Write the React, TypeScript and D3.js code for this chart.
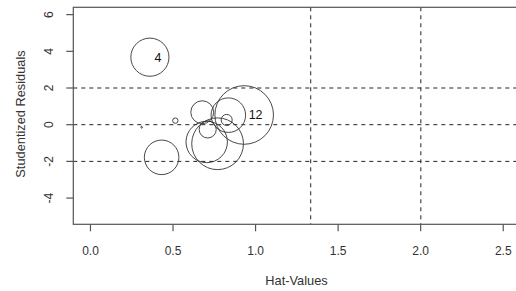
import React from 'react';
import * as d3 from 'd3';

// influence plot: hat-values vs studentized residuals, circle area ~ Cook's D
const hatValues = [0.31, 0.36, 0.431, 0.514, 0.677, 0.71, 0.704, 0.77, 0.835, 0.825, 0.931];
const studRes = [-0.14, 3.68, -1.78, 0.22, 0.68, -0.26, -0.94, -1.04, 0.52, 0.26, 0.53];
const cooksD = [0.001, 0.5, 0.41, 0.01, 0.18, 0.1, 0.59, 0.92, 0.41, 0.042, 1.18];
const obsLabels = ['', '4', '', '', '', '', '', '', '', '', '12'];

const xTicks = [0, 0.5, 1, 1.5, 2, 2.5];
const yTicks = [-4, -2, 0, 2, 4, 6];
const hLines = [-2, 0, 2];
const meanHat = 0.667;
const vLines = [2 * meanHat, 3 * meanHat];

const W = 516;
const H = 291;
const left = 73.3;
const top = 7.3;
const bottom = 224.3;

const App: React.FC = () => {
  const x = d3.scaleLinear().domain([-0.104, 2.7]).range([left, left + 2.804 * 165.1]);
  const y = d3.scaleLinear().domain([-5.43, 6.4]).range([bottom, top]);
  const r = d3.scaleSqrt().domain([0, d3.max(cooksD) || 1]).range([0, 29.3]);
  const right = x(2.7);
  const font = 'Liberation Sans, Arial, sans-serif';

  const order = d3.range(hatValues.length);

  return (
    <svg width={W} height={H} style={{ position: 'absolute', left: 0, top: 0 }} fontFamily={font}>
      <rect width={W} height={H} fill="#fff" />

      {hLines.map((h) => (
        <line key={'h' + h} x1={left} x2={right} y1={y(h)} y2={y(h)} stroke="#222" strokeDasharray="4,4" />
      ))}
      {vLines.map((v) => (
        <line key={'v' + v} x1={x(v)} x2={x(v)} y1={top} y2={bottom} stroke="#222" strokeDasharray="4,4" />
      ))}

      {order.map((i) => (
        <circle
          key={i}
          cx={x(hatValues[i])}
          cy={y(studRes[i])}
          r={Math.max(r(cooksD[i]), 0.7)}
          fill="none"
          stroke="#333"
          strokeWidth={0.9}
        />
      ))}
      {order
        .filter((i) => obsLabels[i])
        .map((i) => (
          <text key={'l' + i} x={x(hatValues[i]) + 4.5} y={y(studRes[i]) + 4.5} fontSize={12.5} fill="#111">
            {obsLabels[i]}
          </text>
        ))}

      <rect x={left} y={top} width={right - left} height={bottom - top} fill="none" stroke="#555" strokeWidth={1.2} />

      {xTicks.map((t) => (
        <g key={'x' + t}>
          <line x1={x(t)} x2={x(t)} y1={bottom} y2={bottom + 7} stroke="#555" strokeWidth={1.2} />
          <text x={x(t)} y={255} textAnchor="middle" fontSize={12} fill="#333">
            {d3.format('.1f')(t)}
          </text>
        </g>
      ))}
      {yTicks.map((t) => (
        <g key={'y' + t}>
          <line x1={left - 7} x2={left} y1={y(t)} y2={y(t)} stroke="#555" strokeWidth={1.2} />
          <text
            transform={`translate(53.3,${y(t)}) rotate(-90)`}
            textAnchor="middle"
            fontSize={12}
            fill="#333"
          >
            {t}
          </text>
        </g>
      ))}

      <text x={296.5} y={285} textAnchor="middle" fontSize={12.8} fill="#333">
        Hat-Values
      </text>
      <text
        transform={`translate(24.5,114) rotate(-90)`}
        textAnchor="middle"
        fontSize={12.8}
        fill="#333"
      >
        Studentized Residuals
      </text>
    </svg>
  );
};

export default App;
